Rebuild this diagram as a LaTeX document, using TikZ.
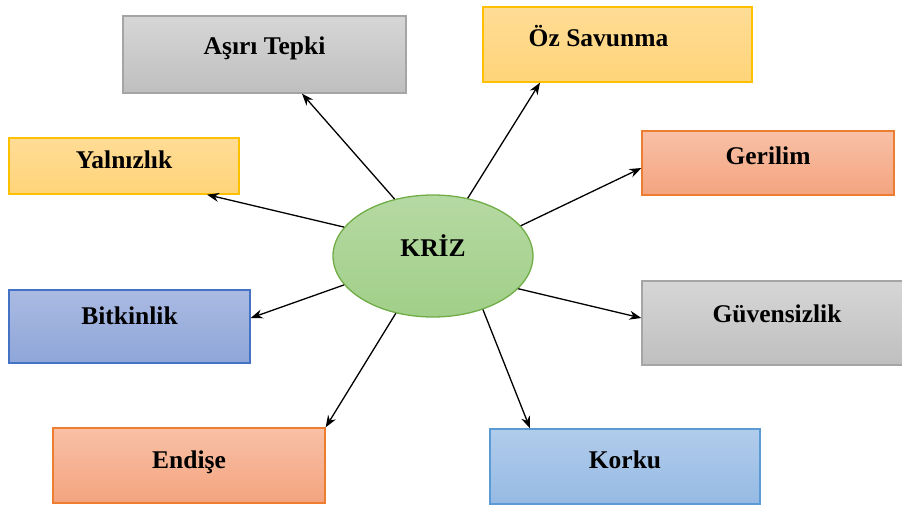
\documentclass[tikz,border=0pt]{standalone}
\usepackage{fontspec}
\setmainfont{Liberation Serif}
\usetikzlibrary{arrows.meta,shapes.geometric}
\definecolor{gryT}{HTML}{D6D6D6}
\definecolor{gryB}{HTML}{BFBFBF}
\definecolor{gryD}{HTML}{A5A5A5}
\definecolor{ylwT}{HTML}{FFDC96}
\definecolor{ylwB}{HTML}{FFD479}
\definecolor{ylwD}{HTML}{FFC000}
\definecolor{orgT}{HTML}{F8C0A6}
\definecolor{orgB}{HTML}{F4A47F}
\definecolor{orgD}{HTML}{ED7D31}
\definecolor{bluT}{HTML}{AABAE2}
\definecolor{bluB}{HTML}{8FA6D9}
\definecolor{bluD}{HTML}{4472C4}
\definecolor{skyT}{HTML}{B1CCEB}
\definecolor{skyB}{HTML}{96BAE4}
\definecolor{skyD}{HTML}{5B9BD5}
\definecolor{grnT}{HTML}{B6D9A3}
\definecolor{grnB}{HTML}{A1CF88}
\definecolor{grnD}{HTML}{70AD47}
\tikzset{
  box/.style={draw,line width=1.3pt,inner sep=0pt,font=\fontsize{25.5}{30}\selectfont\bfseries},
  gbox/.style={box,draw=gryD,top color=gryT,bottom color=gryB},
  ybox/.style={box,draw=ylwD,top color=ylwT,bottom color=ylwB},
  obox/.style={box,draw=orgD,top color=orgT,bottom color=orgB},
  bbox/.style={box,draw=bluD,top color=bluT,bottom color=bluB},
  sbox/.style={box,draw=skyD,top color=skyT,bottom color=skyB},
  tx/.style 2 args={text height=#1pt,text depth=#2pt},
  ar/.style={-{Stealth[length=12pt,width=9pt]},line width=1.3pt},
}
\begin{document}
\begin{tikzpicture}[x=1pt,y=-1pt]
\useasboundingbox (0,0) rectangle (902,507);
% center
\node[box,ellipse,draw=grnD,top color=grnT,bottom color=grnB,minimum width=200pt,minimum height=122pt,tx={18}{18}] (kriz) at (433,256) {KRİZ};
% boxes
\node[gbox,minimum width=283pt,tx={38}{39}] (asiri) at (264.5,54.5) {Aşırı Tepki};
\node[ybox,minimum width=269pt,tx={39}{36}] (oz) at (617.5,44.5) {Öz Savunma\hspace*{38pt}};
\node[ybox,minimum width=230pt,tx={30}{26}] (yaln) at (124,166) {Yalnızlık};
\node[obox,minimum width=252pt,tx={33}{31}] (geri) at (768,163) {Gerilim};
\node[bbox,minimum width=241pt,tx={34}{39}] (bitk) at (129.5,326.5) {Bitkinlik};
\node[gbox,minimum width=270pt,tx={41}{43}] (guven) at (777,323) {Güvensizlik};
\node[obox,minimum width=272pt,tx={40}{35}] (endise) at (189,465.5) {Endişe};
\node[sbox,minimum width=270pt,tx={39}{36}] (korku) at (625,466.5) {Korku};
% arrows
\draw[ar] (kriz.124) -- ([xshift=37.5pt]asiri.south);
\draw[ar] (kriz.59) -- ([xshift=-77.5pt]oz.south);
\draw[ar] (kriz.162) -- ([xshift=83pt]yaln.south);
\draw[ar] (kriz.19) -- ([yshift=-5pt]geri.west);
\draw[ar] (kriz.198) -- ([yshift=8.5pt]bitk.east);
\draw[ar] (kriz.339) -- ([yshift=5pt]guven.west);
\draw[ar] (kriz.237) -- (endise.north east);
\draw[ar] (kriz.313) -- ([xshift=-95pt]korku.north);
\end{tikzpicture}
\end{document}
